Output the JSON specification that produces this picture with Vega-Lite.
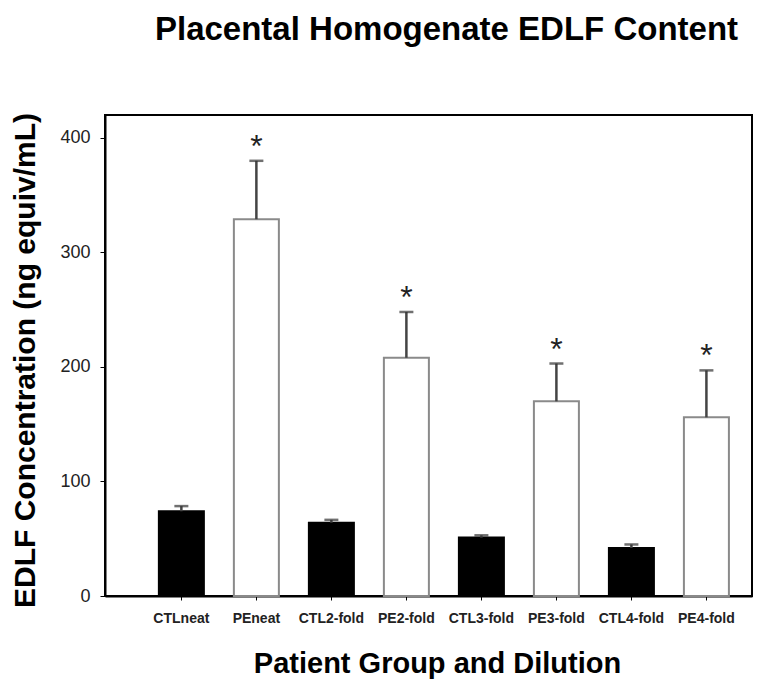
{
  "$schema": "https://vega.github.io/schema/vega-lite/v6.json",
  "width": 647,
  "height": 481,
  "autosize": {"type": "none"},
  "padding": {"left": 105, "top": 115, "right": 23, "bottom": 83},
  "background": "white",
  "config": {
    "view": {"stroke": "black", "strokeWidth": 2},
    "font": "Liberation Sans"
  },
  "title": {
    "text": "Placental Homogenate EDLF Content",
    "fontSize": 33,
    "fontWeight": "bold",
    "font": "Liberation Sans",
    "color": "black",
    "anchor": "middle",
    "dx": 18,
    "offset": 66
  },
  "data": {
    "values": [
      {"label": "CTLneat", "group": "CTL", "mean": 74, "upper": 78.5, "star": ""},
      {"label": "PEneat", "group": "PE", "mean": 329, "upper": 380, "star": "*"},
      {"label": "CTL2-fold", "group": "CTL", "mean": 64, "upper": 66.5, "star": ""},
      {"label": "PE2-fold", "group": "PE", "mean": 208, "upper": 248, "star": "*"},
      {"label": "CTL3-fold", "group": "CTL", "mean": 51, "upper": 53, "star": ""},
      {"label": "PE3-fold", "group": "PE", "mean": 170, "upper": 203, "star": "*"},
      {"label": "CTL4-fold", "group": "CTL", "mean": 42, "upper": 45, "star": ""},
      {"label": "PE4-fold", "group": "PE", "mean": 156, "upper": 197, "star": "*"}
    ]
  },
  "encoding": {
    "x": {
      "field": "label",
      "type": "nominal",
      "sort": null,
      "scale": {"paddingInner": 0.4, "paddingOuter": 0.513, "align": 0.7},
      "axis": {
        "title": "Patient Group and Dilution",
        "titleFontSize": 29,
        "titleFontWeight": "bold",
        "titleColor": "black",
        "titleX": 332,
        "titleY": 67,
        "titleBaseline": "middle",
        "labelAngle": 0,
        "labelFontSize": 14,
        "labelFontWeight": "bold",
        "labelColor": "#222",
        "labelPadding": 11,
        "tickSize": 4,
        "tickColor": "black",
        "domainColor": "black",
        "domainWidth": 2
      }
    }
  },
  "layer": [
    {
      "mark": {"type": "bar", "strokeWidth": 2},
      "encoding": {
        "y": {
          "field": "mean",
          "type": "quantitative",
          "scale": {"domain": [0, 420], "nice": false},
          "axis": {
            "title": "EDLF Concentration (ng equiv/mL)",
            "titleFontSize": 30,
            "titleFontWeight": "bold",
            "titleColor": "black",
            "titleX": -80,
            "titleY": 245,
            "titleAngle": -90,
            "titleBaseline": "middle",
            "values": [0, 100, 200, 300, 400],
            "grid": false,
            "labelFontSize": 18,
            "labelColor": "#222",
            "labelPadding": 10,
            "tickSize": 5,
            "tickColor": "black",
            "domainColor": "black",
            "domainWidth": 2
          }
        },
        "fill": {
          "field": "group",
          "type": "nominal",
          "scale": {"domain": ["CTL", "PE"], "range": ["black", "white"]},
          "legend": null
        },
        "stroke": {
          "field": "group",
          "type": "nominal",
          "scale": {"domain": ["CTL", "PE"], "range": ["black", "#8a8a8a"]},
          "legend": null
        }
      }
    },
    {
      "mark": {"type": "rule", "color": "#444", "strokeWidth": 2.5},
      "encoding": {
        "y": {"field": "mean", "type": "quantitative"},
        "y2": {"field": "upper"}
      }
    },
    {
      "mark": {"type": "tick", "color": "#333", "thickness": 2.5, "size": 14, "orient": "horizontal"},
      "encoding": {
        "y": {"field": "upper", "type": "quantitative"}
      }
    },
    {
      "mark": {"type": "text", "fontSize": 32, "color": "#222", "baseline": "middle", "dy": -14},
      "encoding": {
        "y": {"field": "upper", "type": "quantitative"},
        "text": {"field": "star"}
      }
    }
  ]
}
